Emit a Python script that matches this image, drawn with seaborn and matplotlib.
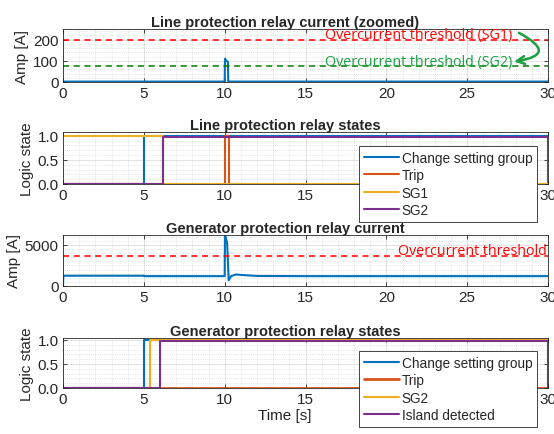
import matplotlib
matplotlib.use('Agg')
import matplotlib.pyplot as plt
from matplotlib.ticker import MultipleLocator
import seaborn as sns
import pandas as pd

# Panel 1: line relay current (zoomed)
line_t = [0, 10.0, 10.02, 10.1, 10.2, 10.22, 30]
line_i = [2, 2, 110, 100, 95, 2, 2]
line_thr_sg1 = 200
line_thr_sg2 = 75

# Panel 2: line relay states
line_csg_t = [0, 5.0, 5.0, 30, 30]
line_csg_v = [0, 0, 1.0, 1.0, 0]
line_trip_t = [0, 10.0, 10.0, 10.25, 10.25, 30]
line_trip_v = [0, 0, 1, 1, 0, 0]
line_sg1_t = [0, 6.2, 6.2, 30]
line_sg1_v = [1, 1, 0, 0]
line_sg2_t = [0, 6.2, 6.2, 30]
line_sg2_v = [0, 0, 0.98, 0.98]

# Panel 3: generator relay current
gen_t = [0, 0.02, 5.0, 5.02, 10.0, 10.02, 10.1, 10.15, 10.25, 10.4, 10.7, 11.0, 12.0, 15, 30]
gen_i = [0, 1250, 1250, 1200, 1200, 6300, 5600, 5300, 700, 1200, 1400, 1350, 1220, 1200, 1200]
gen_thr = 3600

# Panel 4: generator relay states
gen_csg_t = [0, 5.0, 5.0, 30]
gen_csg_v = [0, 0, 1.0, 1.0]
gen_trip_t = [0, 30]
gen_trip_v = [0, 0]
gen_sg2_t = [0, 5.4, 5.4, 30]
gen_sg2_v = [0, 0, 1.0, 1.0]
gen_isl_t = [0, 6.0, 6.0, 30, 30]
gen_isl_v = [0, 0, 0.97, 0.97, 0]

blue, orange, yellow, purple = '#0072BD', '#D95319', '#EDB120', '#7E2F8E'

sns.set_theme(style="ticks")
plt.rcParams['font.family'] = ['Liberation Sans', 'DejaVu Sans']
plt.rcParams['xtick.direction'] = 'in'
plt.rcParams['ytick.direction'] = 'in'

fig = plt.figure(figsize=(5.54, 4.35), dpi=100)
L, W = 63 / 554, (548 - 63) / 554
tops = [30, 133, 236, 339]
bots = [83, 185, 287, 389]
axes = [fig.add_axes([L, 1 - b / 435, W, (b - t) / 435]) for t, b in zip(tops, bots)]


def style(ax, title, ylabel, ylim, yticks, yminor):
    ax.set_xlim(0, 30)
    ax.set_ylim(*ylim)
    ax.set_yticks(yticks)
    ax.set_xticks(range(0, 31, 5))
    ax.xaxis.set_minor_locator(MultipleLocator(1))
    ax.yaxis.set_minor_locator(MultipleLocator(yminor))
    ax.grid(True, which='major', color='#262626', alpha=0.15, lw=0.6)
    ax.grid(True, which='minor', color='#262626', alpha=0.2, lw=0.5, ls=':')
    ax.tick_params(which='both', top=True, right=True, labelsize=11,
                   colors='#262626', pad=3)
    ax.tick_params(which='major', length=3, width=0.6)
    ax.tick_params(which='minor', length=0)
    for s in ax.spines.values():
        s.set_color('#262626')
        s.set_linewidth(0.6)
        s.set_visible(True)
    ax.set_title(title, fontsize=10.5, fontweight='bold', pad=2, x=0.458)
    ax.set_ylabel(ylabel, fontsize=11, labelpad=3)
    ax.set_xlabel('')


def draw(ax, t, v, color, label=None, lw=1.5):
    df = pd.DataFrame({'t': t, 'v': v})
    sns.lineplot(data=df, x='t', y='v', ax=ax, color=color, lw=lw,
                 estimator=None, sort=False, label=label, legend=False)


def add_legend(ax, top_px):
    leg = ax.legend(loc='upper left', bbox_to_anchor=(359 / 554, 1 - top_px / 435),
                    bbox_transform=fig.transFigure, fontsize=9.8,
                    frameon=True, fancybox=False, edgecolor='#262626', framealpha=1,
                    handlelength=2.6, handletextpad=0.2, labelspacing=0.25,
                    borderpad=0.35, borderaxespad=0)
    leg.get_frame().set_linewidth(0.6)


# Panel 1
ax = axes[0]
draw(ax, line_t, line_i, blue)
ax.axhline(line_thr_sg1, color='#FF0000', ls='--', lw=1.1, dashes=(4, 3))
ax.axhline(line_thr_sg2, color='#008000', ls='--', lw=1.1, dashes=(4, 3))
style(ax, 'Line protection relay current (zoomed)', 'Amp [A]', (0, 250), [0, 100, 200], 20)
ax.text(27.8, 226, 'Overcurrent threshold (SG1)', color='#FF0000', ha='right', va='center',
        fontsize=10.3, family=['Open Sans', 'DejaVu Sans'])
ax.text(27.8, 98, 'Overcurrent threshold (SG2)', color='#1AA040', ha='right', va='center',
        fontsize=10.3, family=['Open Sans', 'DejaVu Sans'])
ax.annotate('', xy=(27.9, 96), xytext=(28.2, 232),
            arrowprops=dict(arrowstyle='->', color='#1AA040', lw=1.8,
                            connectionstyle='arc3,rad=-1.5', mutation_scale=14,
                            shrinkA=0, shrinkB=0))

# Panel 2
ax = axes[1]
draw(ax, line_csg_t, line_csg_v, blue, 'Change setting group')
draw(ax, line_trip_t, line_trip_v, orange, 'Trip')
draw(ax, line_sg1_t, line_sg1_v, yellow, 'SG1')
draw(ax, line_sg2_t, line_sg2_v, purple, 'SG2')
style(ax, 'Line protection relay states', 'Logic state', (0, 1.08), [0, 0.5, 1], 0.1)
add_legend(ax, 147)

# Panel 3
ax = axes[2]
draw(ax, gen_t, gen_i, blue)
ax.axhline(gen_thr, color='#FF0000', ls='--', lw=1.1, dashes=(4, 3))
style(ax, 'Generator protection relay current', 'Amp [A]', (0, 6200), [0, 5000], 500)
ax.text(29.9, 4350, 'Overcurrent threshold', color='#FF0000', ha='right', va='center',
        fontsize=10.3, family=['Open Sans', 'DejaVu Sans'])

# Panel 4
ax = axes[3]
draw(ax, gen_csg_t, gen_csg_v, blue, 'Change setting group')
draw(ax, gen_trip_t, gen_trip_v, orange, 'Trip', lw=2)
draw(ax, gen_sg2_t, gen_sg2_v, yellow, 'SG2')
draw(ax, gen_isl_t, gen_isl_v, purple, 'Island detected')
style(ax, 'Generator protection relay states', 'Logic state', (0, 1.04), [0, 0.5, 1], 0.1)
ax.set_xlabel('Time [s]', fontsize=11, labelpad=1, x=0.458)
add_legend(ax, 352)

fig.savefig('out.png', dpi=100)
